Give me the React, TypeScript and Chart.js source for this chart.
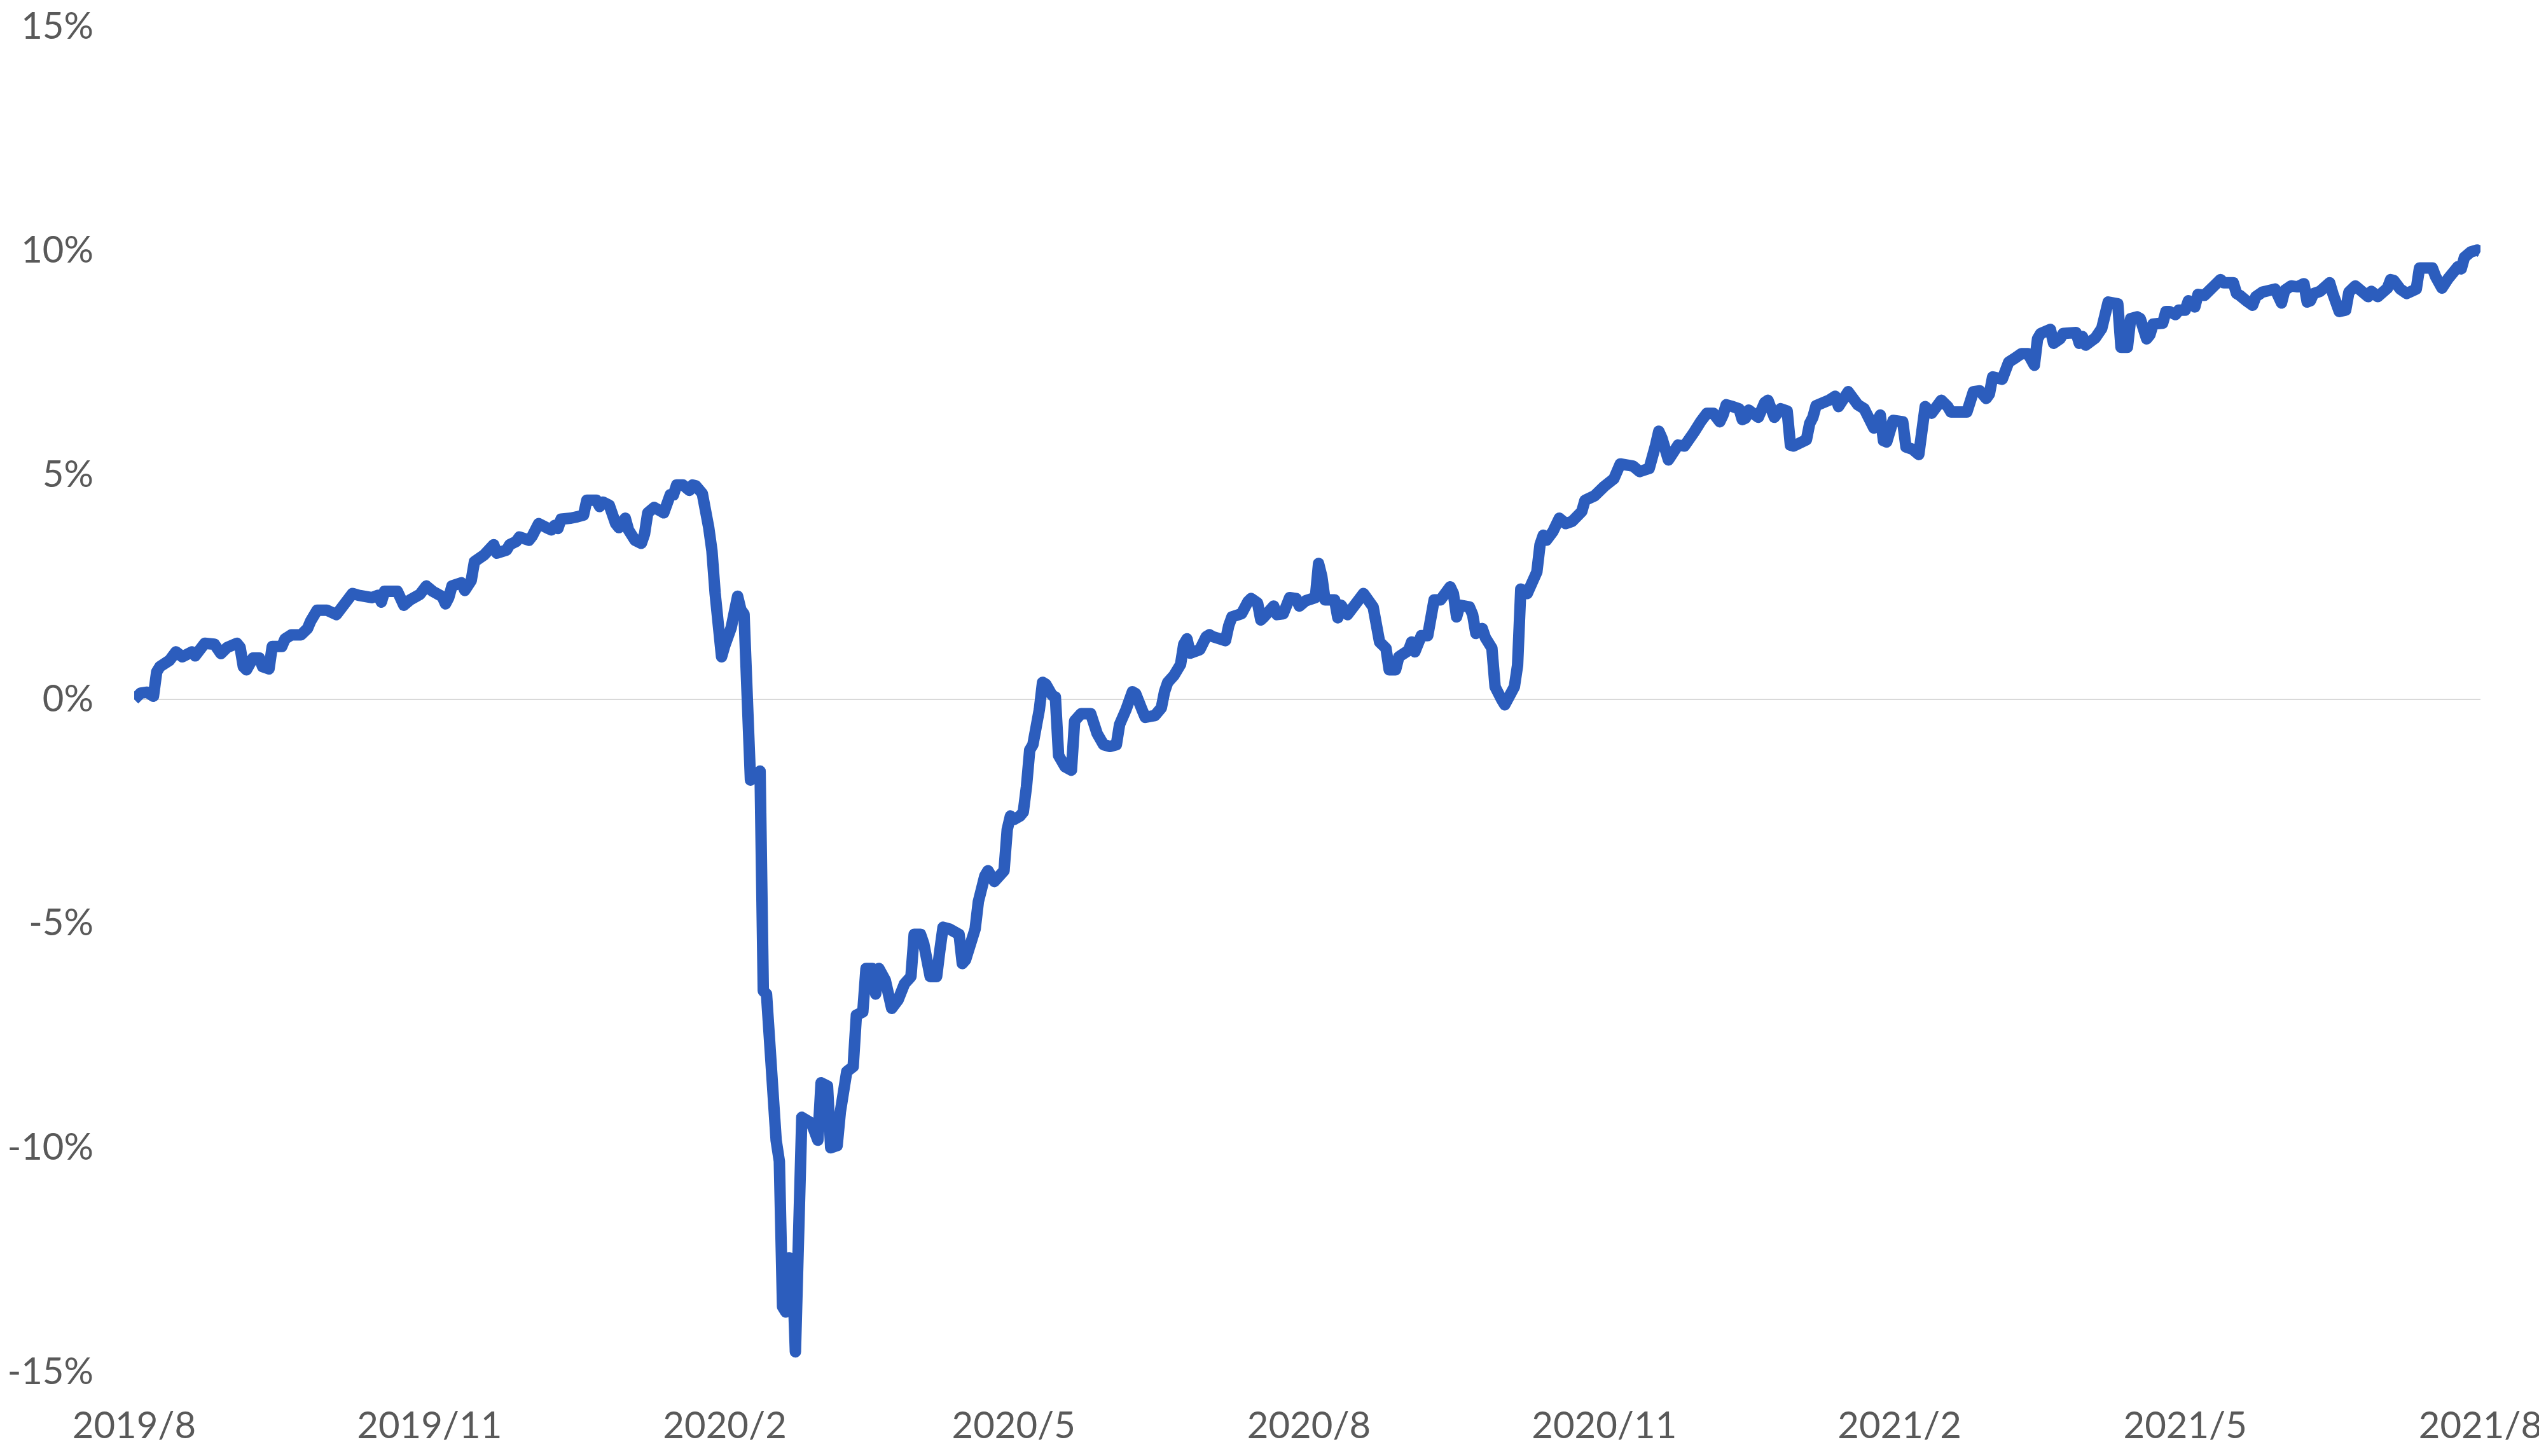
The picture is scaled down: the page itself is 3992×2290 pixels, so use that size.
import { useEffect, useRef } from "react";
import { Chart, registerables } from "chart.js";

Chart.register(...registerables);

// x: days since 2019-08-01, y: cumulative return in %
const dayOffsets = [
  0, 2, 4, 6, 7, 8, 11, 13, 15, 18, 19, 22, 25, 27, 29, 32, 33, 34, 35, 37, 39, 40, 42, 43, 46, 47, 49, 52, 54, 55, 57, 60, 63, 65, 68, 70, 74, 76, 77, 78, 82, 84, 86, 89, 91, 93, 96, 97, 98, 99, 102, 103, 105, 106, 109,
  112, 113, 116, 117, 119, 120, 123, 124, 126, 129, 130, 131, 132, 133, 136, 138, 140, 141, 144, 145, 146, 148, 150, 151, 153, 154, 156, 158, 159, 160, 162, 164, 165, 167, 168, 169, 171, 173, 174, 175, 177, 179, 180, 181, 183, 184, 186, 188, 189, 190,
  192, 195, 196, 197, 200, 201, 202, 203, 204, 205, 206, 208, 211, 213, 214, 216, 217, 219, 220, 222, 224, 225, 227, 228, 230, 231, 232, 234, 236, 238, 240, 242, 243, 245, 246, 248, 250, 251, 252, 254, 257, 258, 259, 262, 263, 265, 266, 268, 271, 272, 273, 274, 276, 277, 278, 279, 280, 282, 283, 284, 286, 287, 288, 290, 292, 293, 295, 297, 298, 300, 302, 304, 306, 307, 309, 311, 312, 314, 315, 318, 320, 321, 322, 324, 326, 327, 328, 329, 332, 334, 335, 336, 340, 341, 342, 345, 347, 348, 350, 351, 352, 355, 356, 358, 360, 362, 363, 365, 368, 369, 370, 371, 374, 375, 376, 378, 383, 386, 388, 390, 391, 393, 394, 397, 398, 399, 401, 403, 405, 407, 410, 411, 412, 413, 416, 417, 418, 420, 421, 423, 424, 426, 427, 430, 431, 432, 434, 437, 438, 439, 440, 442, 444, 446, 448, 451, 452, 455, 458,
  461, 463, 467, 469, 472, 474, 475, 476, 478, 481, 483, 486, 488, 490, 492, 494, 495, 496, 498, 500, 501, 502, 503, 506, 508, 509, 511, 513, 515, 516, 517, 521, 522, 523, 524, 528, 530, 531, 534, 537, 539, 542, 544, 545, 546, 548, 551, 552, 554, 556, 558, 560, 563, 565, 566, 569, 571, 573, 575, 577, 578, 579, 582, 584, 586, 588, 590, 592, 593, 594, 597, 598, 600, 601, 605, 606, 607, 608, 611, 613, 615, 618, 619, 621, 622, 624, 625, 627, 628, 629, 632, 633, 634, 636, 637, 639, 640, 641, 642, 643, 645, 646, 648, 650, 651, 654, 655, 656, 658, 660, 661, 663, 667, 669, 670, 672, 674, 676, 677, 678, 679, 681, 684, 685, 687, 689, 690, 692, 696, 697, 699, 702, 703, 704, 706, 708, 711, 712, 716, 717, 719, 721, 724, 725, 726, 728, 730, 731,
];

const returnPct = [
  0.0, 0.14, 0.16, 0.07, 0.61, 0.73, 0.87, 1.06, 0.95, 1.06, 0.97, 1.25, 1.23, 1.02, 1.16, 1.25, 1.16, 0.73, 0.66, 0.92, 0.92, 0.73, 0.68, 1.18, 1.18, 1.35, 1.44, 1.44, 1.58, 1.75, 1.99, 1.99, 1.89, 2.08, 2.36, 2.32, 2.27, 2.32, 2.17, 2.41, 2.41, 2.1, 2.22, 2.34, 2.53, 2.41, 2.29, 2.13, 2.27, 2.53, 2.6, 2.43, 2.65, 3.07, 3.22,
  3.45, 3.26, 3.33, 3.45, 3.52, 3.62, 3.55, 3.64, 3.92, 3.81, 3.78, 3.88, 3.81, 4.02, 4.04, 4.07, 4.11, 4.44, 4.44, 4.3, 4.4, 4.33, 3.92, 3.83, 4.04, 3.78, 3.55, 3.48, 3.69, 4.16, 4.28, 4.2, 4.16, 4.56, 4.56, 4.78, 4.78, 4.66, 4.78, 4.76, 4.59, 3.83, 3.31, 2.36, 0.95, 1.2, 1.6, 2.3, 2.0, 1.9,
  -1.8, -1.6, -6.5, -6.57, -9.83, -10.3, -13.54, -13.66, -12.45, -12.51, -14.55, -9.32, -9.45, -9.83, -8.55, -8.62, -10.0, -9.95, -9.2, -8.3, -8.19, -7.04, -6.97, -6.0, -6.0, -6.57, -6.0, -6.26, -6.89, -6.7, -6.34, -6.18, -5.24, -5.24, -5.45, -6.18, -6.18, -5.6, -5.08, -5.12, -5.24, -5.89, -5.81, -5.12, -4.51, -3.94, -3.82, -4.06, -3.82, -2.9, -2.6, -2.68, -2.6, -2.51, -1.94, -1.13, -1.01, -0.23, 0.38, 0.34, 0.09, 0.05, -1.25, -1.5, -1.58, -0.48, -0.32, -0.32, -0.32, -0.76, -1.01, -1.05, -1.01, -0.56, -0.23, 0.17, 0.13, -0.23, -0.4, -0.36, -0.19, 0.17, 0.38, 0.54, 0.78, 1.23, 1.35, 1.03, 1.11, 1.4, 1.44, 1.4, 1.31, 1.64, 1.84, 1.91, 2.18, 2.25, 2.15, 1.77, 1.84, 2.08, 1.89, 1.91, 2.27, 2.25, 2.08, 2.2, 2.27, 3.03, 2.74, 2.22, 2.22, 1.82, 2.1, 1.89, 2.36, 2.06, 1.28, 1.14, 0.66, 0.66, 0.95, 1.09, 1.28, 1.06, 1.42, 1.42, 2.22, 2.22, 2.51, 2.36, 1.84, 2.1, 2.06, 1.89, 1.47, 1.58, 1.37, 1.14, 0.28, 0.0, -0.12, 0.28, 0.76, 2.46, 2.36, 2.84, 3.45, 3.66, 3.55, 3.74, 4.04, 3.92, 3.97, 4.19, 4.44, 4.54, 4.75,
  4.92, 5.25, 5.2, 5.08, 5.15, 5.67, 5.98, 5.82, 5.34, 5.67, 5.65, 5.96, 6.19, 6.38, 6.38, 6.19, 6.34, 6.57, 6.53, 6.48, 6.24, 6.27, 6.45, 6.29, 6.62, 6.67, 6.29, 6.48, 6.43, 5.67, 5.65, 5.79, 6.15, 6.29, 6.55, 6.67, 6.76, 6.53, 6.86, 6.57, 6.48, 6.05, 6.34, 5.77, 5.74, 6.22, 6.19, 5.63, 5.58, 5.46, 6.53, 6.38, 6.67, 6.53, 6.41, 6.41, 6.41, 6.86, 6.88, 6.71, 6.81, 7.19, 7.14, 7.52, 7.61, 7.71, 7.71, 7.45, 8.04, 8.16, 8.25, 7.94, 8.04, 8.16, 8.18, 7.94, 8.09, 7.9, 8.06, 8.27, 8.86, 8.82, 7.85, 7.85, 8.49, 8.53, 8.49, 8.04, 8.13, 8.37, 8.39, 8.65, 8.65, 8.58, 8.68, 8.68, 8.89, 8.82, 8.75, 9.03, 9.01, 9.08, 9.22, 9.36, 9.29, 9.29, 9.05, 9.01, 8.89, 8.79, 8.98, 9.08, 9.15, 8.84, 9.12, 9.22, 9.2, 9.27, 8.86, 8.89, 9.05, 9.1, 9.29, 9.05, 8.65, 8.68, 9.08, 9.22, 8.98, 9.1, 8.98, 9.17, 9.36, 9.34, 9.15, 9.05, 9.15, 9.62, 9.62, 9.43, 9.17, 9.39, 9.65, 9.6, 9.86, 9.98, 10.02, 9.98,
];

// x-axis tick positions (days since 2019-08-01) and their labels
const tickDays = [0, 92, 184, 274, 366, 458, 550, 639, 731];
const tickLabels = ["2019/8", "2019/11", "2020/2", "2020/5", "2020/8", "2020/11", "2021/2", "2021/5", "2021/8"];
const yTickValues = [-15, -10, -5, 0, 5, 10, 15];

const FONT = { family: "Lato, 'Open Sans', sans-serif", size: 58 };
const TEXT_COLOR = "#595959";

export default function App() {
  const ref = useRef<HTMLCanvasElement>(null);

  useEffect(() => {
    const canvas = ref.current;
    if (!canvas) return;
    const chart = new Chart(canvas, {
      type: "line",
      data: {
        datasets: [
          {
            data: dayOffsets.map((d, i) => ({ x: d, y: returnPct[i] })),
            borderColor: "#2C5DBD",
            backgroundColor: "#2C5DBD",
            borderWidth: 18,
            pointRadius: 0,
            pointHoverRadius: 0,
            borderJoinStyle: "round",
            borderCapStyle: "butt",
            tension: 0,
            fill: false,
          },
        ],
      },
      options: {
        responsive: false,
        animation: false,
        devicePixelRatio: 1,
        layout: { padding: { left: 0, right: 92, top: 42, bottom: 0 } },
        plugins: { legend: { display: false }, tooltip: { enabled: false } },
        scales: {
          x: {
            type: "linear",
            min: 0,
            max: 731,
            grid: { display: false, drawTicks: false },
            border: { display: false },
            afterBuildTicks: (s: any) => {
              s.ticks = tickDays.map((v) => ({ value: v }));
            },
            afterFit: (s: any) => {
              s.height = 132;
              s.paddingLeft = 0;
              s.paddingRight = 0;
            },
            ticks: {
              autoSkip: false,
              maxRotation: 0,
              minRotation: 0,
              padding: 50,
              color: TEXT_COLOR,
              font: FONT,
              callback: (v: any) => {
                const i = tickDays.indexOf(Number(v));
                return i >= 0 ? tickLabels[i] : "";
              },
            },
          },
          y: {
            type: "linear",
            min: -15,
            max: 15,
            afterBuildTicks: (s: any) => {
              s.ticks = yTickValues.map((v) => ({ value: v }));
            },
            afterFit: (s: any) => {
              s.width = 211;
              s.paddingTop = 0;
              s.paddingBottom = 0;
            },
            grid: {
              drawTicks: false,
              lineWidth: 2,
              color: (c: any) => (c.tick && c.tick.value === 0 ? "#D9D9D9" : "rgba(0,0,0,0)"),
            },
            border: { display: false },
            ticks: {
              padding: 64,
              color: TEXT_COLOR,
              font: FONT,
              callback: (v: any) => `${v}%`,
            },
          },
        },
      },
    });
    return () => chart.destroy();
  }, []);

  return (
    <div style={{ position: "absolute", left: 0, top: 0, width: 3992, height: 2290, background: "#fff" }}>
      <canvas ref={ref} width={3992} height={2290} style={{ width: 3992, height: 2290, display: "block" }} />
    </div>
  );
}
